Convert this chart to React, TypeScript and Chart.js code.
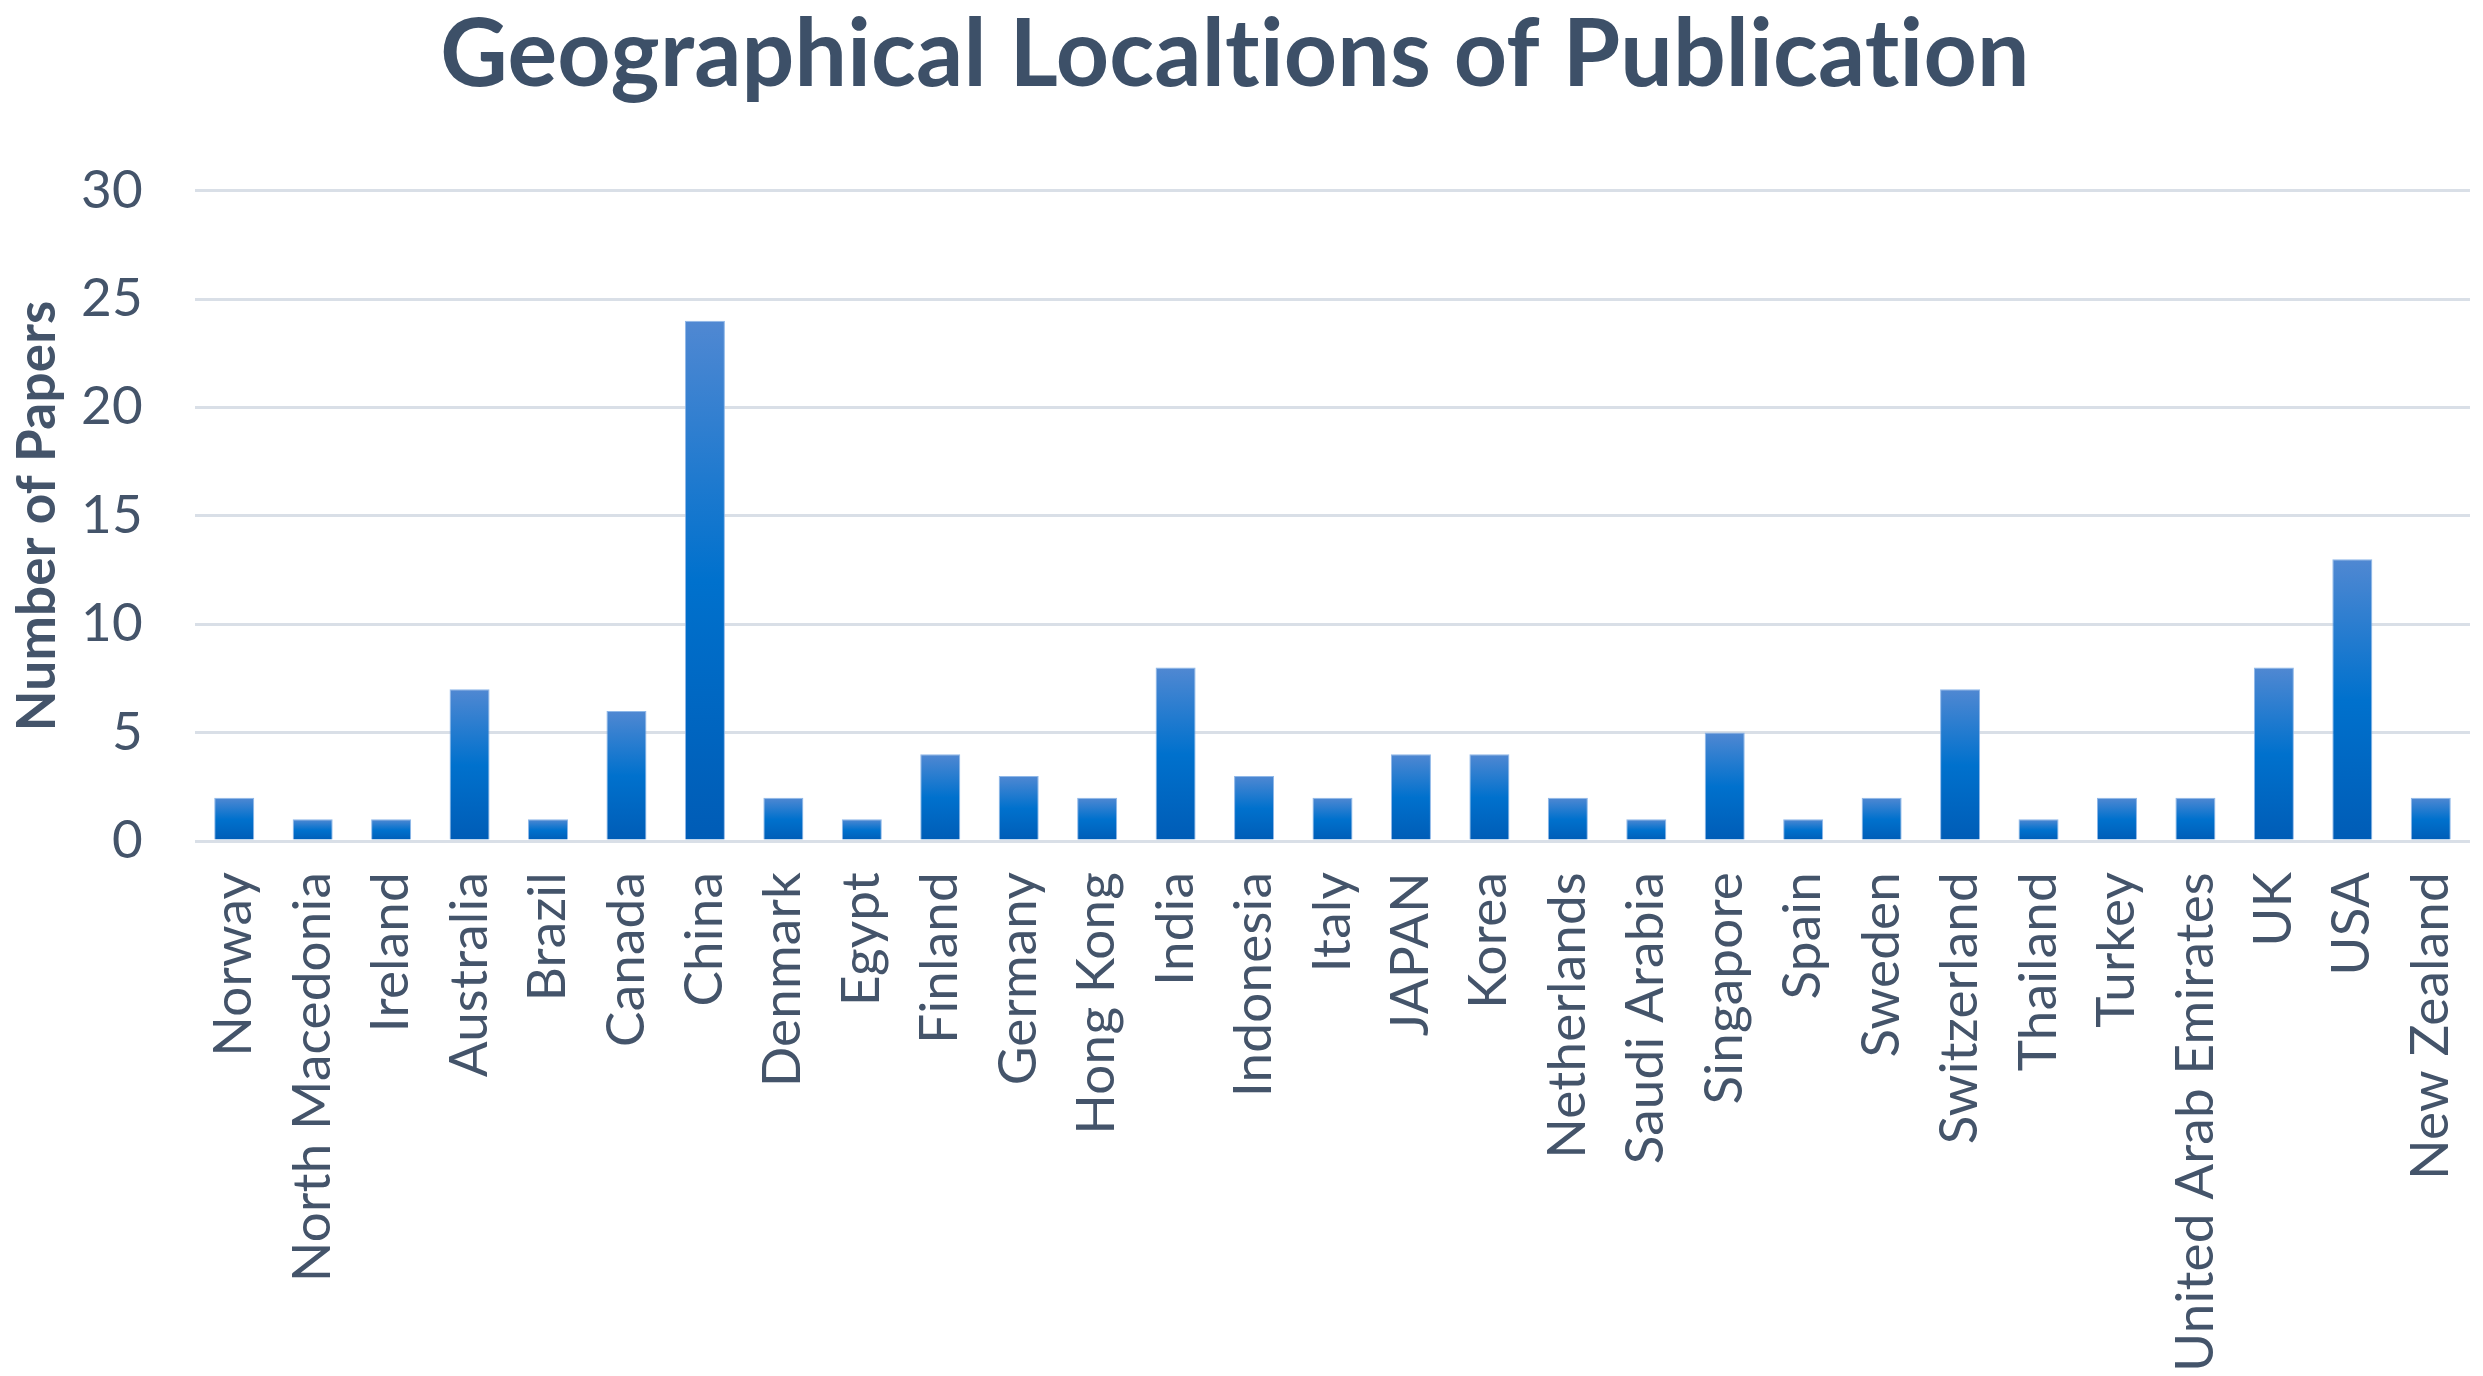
import React, { useEffect, useRef } from "react";
import { Chart, registerables } from "chart.js";

Chart.register(...registerables);

const categories: string[] = [
  "Norway", "North Macedonia", "Ireland", "Australia", "Brazil", "Canada", "China",
  "Denmark", "Egypt", "Finland", "Germany", "Hong Kong", "India", "Indonesia", "Italy",
  "JAPAN", "Korea", "Netherlands", "Saudi Arabia", "Singapore", "Spain", "Sweden",
  "Switzerland", "Thailand", "Turkey", "United Arab Emirates", "UK", "USA", "New Zealand",
];

const paperCounts: number[] = [
  2, 1, 1, 7, 1, 6, 24,
  2, 1, 4, 3, 2, 8, 3, 2,
  4, 4, 2, 1, 5, 1, 2,
  7, 1, 2, 2, 8, 13, 2,
];

const yTickValues: number[] = [0, 5, 10, 15, 20, 25, 30];

const chartTitle = "Geographical Localtions of Publication";
const yAxisTitle = "Number of Papers";

const TEXT = "#44546A";
const FONT = "Lato, 'Open Sans', sans-serif";

// disables optional ligatures (e.g. "ti") so text reads like the reference
const noLigatures = {
  id: "noLigatures",
  beforeDraw(chart: any) {
    try {
      (chart.ctx as any).letterSpacing = "0.2px";
    } catch (e) {
      /* ignore */
    }
  },
};

export default function App() {
  const canvasRef = useRef<HTMLCanvasElement | null>(null);

  useEffect(() => {
    const canvas = canvasRef.current;
    if (!canvas) return;

    const barFill = (ctx: any) => {
      const chart = ctx.chart;
      const area = chart.chartArea;
      if (!area || ctx.type !== "data") return "#0070CC";
      const v = ctx.parsed ? ctx.parsed.y : ctx.raw;
      const ys = chart.scales.y;
      const top = ys.getPixelForValue(v);
      const bottom = ys.getPixelForValue(0);
      if (!isFinite(top) || !isFinite(bottom) || top === bottom) return "#0070CC";
      const g = chart.ctx.createLinearGradient(0, top, 0, bottom);
      g.addColorStop(0, "#5088D2");
      g.addColorStop(0.5, "#0071CD");
      g.addColorStop(1, "#005CB6");
      return g;
    };

    const chart = new Chart(canvas, {
      type: "bar",
      data: {
        labels: categories,
        datasets: [
          {
            label: yAxisTitle,
            data: paperCounts,
            backgroundColor: barFill,
            borderColor: "rgba(130,175,230,0.9)",
            borderWidth: 1,
            barPercentage: 0.51,
            categoryPercentage: 1,
          },
        ],
      },
      plugins: [noLigatures],
      options: {
        responsive: false,
        animation: false,
        devicePixelRatio: 1,
        layout: { padding: { top: 0, left: 0, right: 13, bottom: 0 } },
        plugins: {
          legend: { display: false },
          tooltip: { enabled: false },
          title: {
            display: true,
            text: chartTitle,
            color: "#3D5068",
            font: { family: FONT, size: 93, weight: "bold" },
            padding: { top: 0, bottom: 79 },
          },
        },
        scales: {
          x: {
            type: "category",
            offset: true,
            grid: { display: false, drawTicks: false },
            border: { display: false },
            ticks: {
              autoSkip: false,
              minRotation: 90,
              maxRotation: 90,
              padding: 31,
              color: TEXT,
              font: { family: FONT, size: 53 },
            },
            afterFit: (scale: any) => {
              scale.height = 535;
              scale.paddingLeft = 0;
              scale.paddingRight = 0;
            },
          },
          y: {
            min: 0,
            max: 30,
            afterBuildTicks: (scale: any) => {
              scale.ticks = yTickValues.map((v) => ({ value: v }));
            },
            grid: { color: "#D9DFE7", lineWidth: 3, drawTicks: false },
            border: { display: false },
            ticks: {
              padding: 52,
              color: TEXT,
              font: { family: FONT, size: 53 },
            },
            title: {
              display: true,
              text: yAxisTitle,
              color: TEXT,
              font: { family: FONT, size: 53, weight: "bold" },
              padding: { top: 6, bottom: 0 },
            },
            afterFit: (scale: any) => {
              scale.width = 195;
              scale.paddingTop = 0;
              scale.paddingBottom = 0;
            },
          },
        },
      },
    });

    return () => {
      chart.destroy();
    };
  }, []);

  return (
    <div style={{ position: "fixed", left: 0, top: 0, width: 2483, height: 1376, background: "#ffffff" }}>
      <canvas ref={canvasRef} width={2483} height={1376} style={{ display: "block" }} />
    </div>
  );
}
